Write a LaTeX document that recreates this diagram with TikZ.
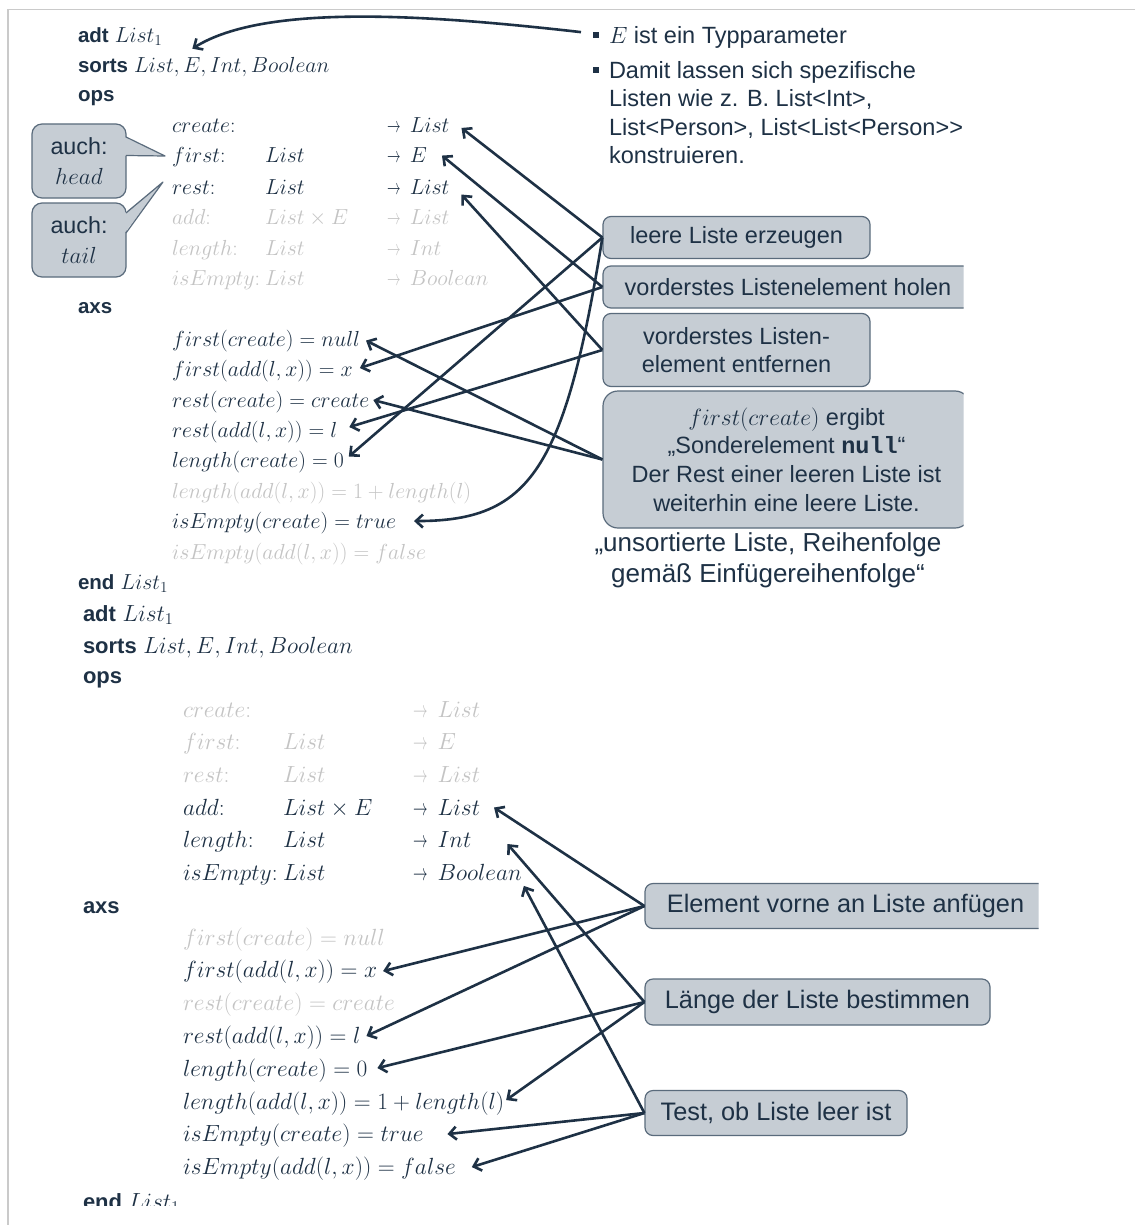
\RequirePackage{fix-cm}
\documentclass[tikz,border=0pt]{standalone}
\usepackage{fontspec}
\setmainfont{Liberation Sans}
\setmonofont{Liberation Mono}
\usepackage{graphicx}
\usetikzlibrary{arrows.meta,calc}

\definecolor{ink}{HTML}{1E3145}
\definecolor{faded}{HTML}{C4C4C4}
\definecolor{boxfill}{HTML}{C6CDD4}
\definecolor{boxline}{HTML}{5A6B7C}
\definecolor{framegray}{HTML}{CACACA}

% bold keywords of the specification
\newcommand\kwA[1]{{\fontsize{20.5}{24}\selectfont\bfseries #1}}
\newcommand\kwB[1]{{\fontsize{22}{26}\selectfont\bfseries #1}}
% short signature arrow
\newcommand\shto{\scalebox{0.62}[1]{$\rightarrow$}\hspace{0.43em}}

\begin{document}
\begin{tikzpicture}[x=1pt,y=-1pt,
  txt/.style={anchor=base west, inner sep=0pt, outer sep=0pt, text=ink},
  ta/.style={txt, font=\fontsize{21.8}{26}\selectfont},
  tb/.style={txt, font=\fontsize{23.4}{28}\selectfont},
  fade/.style={text=faded},
  prose/.style={txt, font=\fontsize{23.5}{28.5}\selectfont},
  panel/.style={draw=boxline, fill=boxfill, line width=1.2pt, rounded corners=8pt,
    inner sep=0pt, align=center, text=ink},
  notea/.style={panel, font=\fontsize{23.5}{28.7}\selectfont},
  noteb/.style={panel, font=\fontsize{25.3}{30}\selectfont},
  callbox/.style={panel, rounded corners=10pt, minimum width=94pt, minimum height=74pt,
    font=\fontsize{23.3}{29.5}\selectfont},
  link/.style={draw=ink, line width=2.6pt, -{Straight Barb[length=7pt,width=13pt]}},
]
\useasboundingbox (0,0) rectangle (1135,1225);
\fill[white] (0,0) rectangle (1135,1225);
\draw[framegray, line width=1.3pt] (1135,9.5) -- (8,9.5) -- (8,1225);

% ================= upper specification =================
\node[ta] (adtA)   at (78,42.5) {\kwA{adt} $List_1$};
\node[ta] (sortsA) at (78,72.5) {\kwA{sorts} $List, E, Int, Boolean$};
\node[ta] (opsA)   at (78,102)  {\kwA{ops}};

\node[ta] (oCreateA) at (172,133) {$create{:}$};
\node[ta] (rCreateA) at (387,133) {\shto$List$};
\node[ta] (oFirstA)  at (172,163) {$first{:}$};
\node[ta] (aFirstA)  at (265,163) {$List$};
\node[ta] (rFirstA)  at (387,163) {\shto$E$};
\node[ta] (oRestA)   at (172,194) {$rest{:}$};
\node[ta] (aRestA)   at (265,194) {$List$};
\node[ta] (rRestA)   at (387,194) {\shto$List$};
\node[ta,fade] (oAddA)  at (172,224) {$add{:}$};
\node[ta,fade] (aAddA)  at (265,224) {$List\times E$};
\node[ta,fade] (rAddA)  at (387,224) {\shto$List$};
\node[ta,fade] (oLenA)  at (172,255) {$length{:}$};
\node[ta,fade] (aLenA)  at (265,255) {$List$};
\node[ta,fade] (rLenA)  at (387,255) {\shto$Int$};
\node[ta,fade] (oEmpA)  at (172,285) {$isEmpty{:}$};
\node[ta,fade] (aEmpA)  at (265,285) {$List$};
\node[ta,fade] (rEmpA)  at (387,285) {\shto$Boolean$};

\node[ta] (axsA) at (78,313) {\kwA{axs}};
\node[ta] (ax1) at (172,346) {$first(create) = null$};
\node[ta] (ax2) at (172,376) {$first(add(l,x)) = x$};
\node[ta] (ax3) at (172,407) {$rest(create) = create$};
\node[ta] (ax4) at (172,437) {$rest(add(l,x)) = l$};
\node[ta] (ax5) at (172,467) {$length(create) = 0$};
\node[ta,fade] (ax6) at (172,498) {$length(add(l,x)) = 1 + length(l)$};
\node[ta] (ax7) at (172,528) {$isEmpty(create) = true$};
\node[ta,fade] (ax8) at (172,559) {$isEmpty(add(l,x)) = false$};
\node[ta] (endA) at (78,589) {\kwA{end} $List_1$};

% alias callouts
\node[callbox] (cHead) at (79,161) {auch:\\$head$};
\node[callbox] (cTail) at (79,240) {auch:\\$tail$};
\fill[boxfill] (124.6,137) -- (165,156) -- (124.6,155.5) -- cycle;
\draw[boxline, line width=1.2pt, line join=round] (126,137) -- (165,156) -- (126,155.5);
\fill[boxfill] (124.6,213) -- (163,182) -- (124.6,233) -- cycle;
\draw[boxline, line width=1.2pt, line join=round] (126,213) -- (163,182) -- (126,233);

% remarks on the right
\fill[ink] (592.5,32) rectangle (599,38.5);
\fill[ink] (592.5,67) rectangle (599,73.5);
\node[prose] (bE)  at (609,44)  {$E$ ist ein Typparameter};
\node[prose] (bD1) at (609,79)  {Damit lassen sich spezifische};
\node[prose] (bD2) at (609,107) {Listen wie z. B. List<Int>,};
\node[prose] (bD4) at (609,164) {konstruieren.};

\node[notea, minimum width=267pt, minimum height=42pt] (b1) at (736.5,237.5) {leere Liste erzeugen};
\node[notea, minimum width=267pt, minimum height=73pt] (b3) at (736.5,350) {vorderstes Listen-\\element entfernen};
\begin{scope}
  \clip (0,0) rectangle (963.5,598);
  \node[prose] (bD3) at (609,136) {List<Person>, List<List<Person>{}>};
  \node[notea, minimum width=370pt, minimum height=42pt] (b2) at (788,287) {vorderstes Listenelement holen};
  \node[notea, rounded corners=15pt, minimum width=367pt, minimum height=137pt] (b4) at (786.5,459.5)
    {$first(create)$ ergibt\\„Sonderelement \textbf{\texttt{null}}“\\Der Rest einer leeren Liste ist\\weiterhin eine leere Liste.};
\end{scope}
\node[txt, anchor=center, align=center, font=\fontsize{26}{31}\selectfont] (quote) at (768,560)
  {„unsortierte Liste, Reihenfolge\\gemäß Einfügereihenfolge“};

% connectors of the upper part
\draw[link] ([shift={(-28pt,5.8pt)}]bE.west) .. controls (430,15) and (265,3) .. ([shift={(30pt,-12pt)}]adtA.east);
\draw[link] (b1.west) -- ([shift={(12pt,-2.4pt)}]rCreateA.east);
\draw[link] (b1.west) -- ([shift={(5pt,5pt)}]ax5.east);
\draw[link] (b1.west) .. controls (565,470) and (530,521) .. ([shift={(18pt,1.5pt)}]ax7.east);
\draw[link] (b2.west) -- ([shift={(15pt,0pt)}]rFirstA.east);
\draw[link] (b2.west) -- ([shift={(7pt,2.5pt)}]ax2.east);
\draw[link] (b3.west) -- ([shift={(12pt,-8pt)}]rRestA.east);
\draw[link] (b3.west) -- ([shift={(12pt,4.5pt)}]ax4.east);
\draw[link] (b4.west) -- ([shift={(6pt,0pt)}]ax1.east);
\draw[link] (b4.west) -- ([shift={(4pt,1.5pt)}]ax3.east);

% ================= lower specification =================
\node[tb] (adtB)   at (83,621)   {\kwB{adt} $List_1$};
\node[tb] (sortsB) at (83,653)   {\kwB{sorts} $List, E, Int, Boolean$};
\node[tb] (opsB)   at (83,683.5) {\kwB{ops}};

\node[tb,fade] (oCreateB) at (183,717.5) {$create{:}$};
\node[tb,fade] (rCreateB) at (413,717.5) {\shto$List$};
\node[tb,fade] (oFirstB)  at (183,749.5) {$first{:}$};
\node[tb,fade] (aFirstB)  at (283,749.5) {$List$};
\node[tb,fade] (rFirstB)  at (413,749.5) {\shto$E$};
\node[tb,fade] (oRestB)   at (183,782.5) {$rest{:}$};
\node[tb,fade] (aRestB)   at (283,782.5) {$List$};
\node[tb,fade] (rRestB)   at (413,782.5) {\shto$List$};
\node[tb] (oAddB)  at (183,815.5) {$add{:}$};
\node[tb] (aAddB)  at (283,815.5) {$List\times E$};
\node[tb] (rAddB)  at (413,815.5) {\shto$List$};
\node[tb] (oLenB)  at (183,847.5) {$length{:}$};
\node[tb] (aLenB)  at (283,847.5) {$List$};
\node[tb] (rLenB)  at (413,847.5) {\shto$Int$};
\node[tb] (oEmpB)  at (183,880.5) {$isEmpty{:}$};
\node[tb] (aEmpB)  at (283,880.5) {$List$};
\node[tb] (rEmpB)  at (413,880.5) {\shto$Boolean$};

\node[tb] (axsB) at (83,913) {\kwB{axs}};
\node[tb,fade] (bx1) at (183,945.5)  {$first(create) = null$};
\node[tb]      (bx2) at (183,977.5)  {$first(add(l,x)) = x$};
\node[tb,fade] (bx3) at (183,1010.5) {$rest(create) = create$};
\node[tb]      (bx4) at (183,1043.5) {$rest(add(l,x)) = l$};
\node[tb]      (bx5) at (183,1076.5) {$length(create) = 0$};
\node[tb]      (bx6) at (183,1109.5) {$length(add(l,x)) = 1 + length(l)$};
\node[tb]      (bx7) at (183,1141.5) {$isEmpty(create) = true$};
\node[tb]      (bx8) at (183,1174.5) {$isEmpty(add(l,x)) = false$};
\begin{scope}
  \clip (0,600) rectangle (1135,1205);
  \node[tb] (endB) at (83,1209) {\kwB{end} $List_1$};
\end{scope}

\begin{scope}
  \clip (0,600) rectangle (1038.5,1225);
  \node[noteb, minimum width=401pt, minimum height=45pt] (c1) at (845.5,906) {Element vorne an Liste anfügen};
\end{scope}
\node[noteb, minimum width=345pt, minimum height=46pt] (c2) at (817.5,1002) {Länge der Liste bestimmen};
\node[noteb, minimum width=262pt, minimum height=45pt] (c3) at (776,1113) {Test, ob Liste leer ist};

% connectors of the lower part
\draw[link] (c1.west) -- ([shift={(14pt,0pt)}]rAddB.east);
\draw[link] (c1.west) -- ([shift={(6pt,0.6pt)}]bx2.east);
\draw[link] (c1.west) -- ([shift={(6pt,1.6pt)}]bx4.east);
\draw[link] (c2.west) -- ([shift={(36pt,-4.5pt)}]rLenB.east);
\draw[link] (c2.west) -- ([shift={(10pt,2.6pt)}]bx5.east);
\draw[link] (c2.west) -- ([shift={(2pt,3.6pt)}]bx6.east);
\draw[link] (c3.west) -- ([shift={(2pt,-13.5pt)}]rEmpB.east);
\draw[link] (c3.west) -- ([shift={(24pt,1.6pt)}]bx7.east);
\draw[link] (c3.west) -- ([shift={(16pt,1.6pt)}]bx8.east);
\end{tikzpicture}
\end{document}
